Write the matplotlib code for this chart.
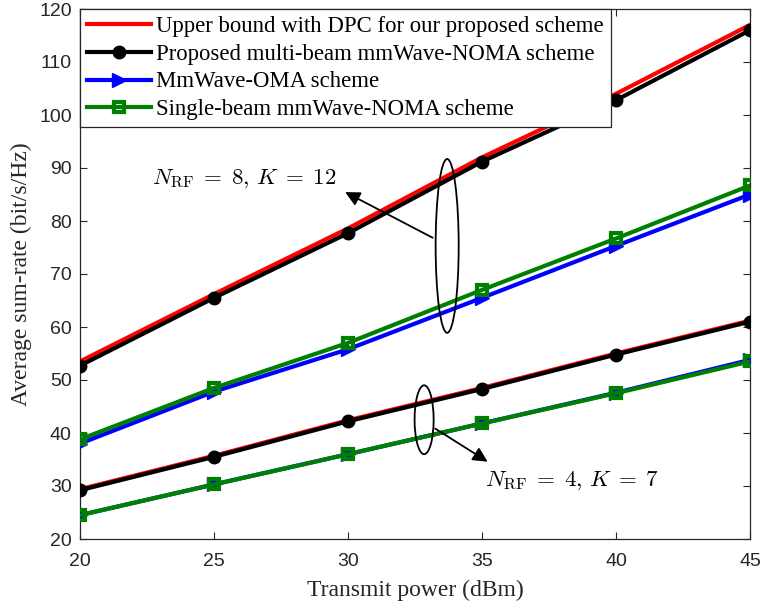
import matplotlib
matplotlib.use("Agg")
import matplotlib.pyplot as plt
from matplotlib.patches import Ellipse

power_dbm = [20, 25, 30, 35, 40, 45]

# N_RF = 8, K = 12
dpc_8 = [53.5, 66.2, 78.6, 92.0, 104.0, 117.0]
multi_8 = [52.7, 65.5, 77.7, 91.2, 102.8, 116.0]
oma_8 = [38.0, 47.8, 55.8, 65.5, 75.3, 85.0]
single_8 = [38.8, 48.5, 57.0, 67.0, 76.7, 86.7]

# N_RF = 4, K = 7
dpc_4 = [29.4, 35.7, 42.4, 48.5, 55.0, 61.2]
multi_4 = [29.2, 35.5, 42.2, 48.3, 54.8, 61.0]
oma_4 = [24.5, 30.3, 36.0, 41.8, 47.6, 53.8]
single_4 = [24.5, 30.3, 36.0, 41.8, 47.5, 53.5]

legend_labels = [
    "Upper bound with DPC for our proposed scheme",
    "Proposed multi-beam mmWave-NOMA scheme",
    "MmWave-OMA scheme",
    "Single-beam mmWave-NOMA scheme",
]

serif = "Liberation Serif"
sans = "Liberation Sans"
plt.rcParams["mathtext.fontset"] = "cm"

fig = plt.figure(figsize=(7.61, 6.10), dpi=100)
ax = fig.add_axes([80 / 761, 1 - 539 / 610, 670 / 761, 530 / 610])

lw = 3.0
styles = [
    dict(color="red", lw=lw, zorder=3),
    dict(color="black", lw=lw, marker="o", ms=9, zorder=4),
    dict(color="blue", lw=lw, marker=">", ms=10, zorder=3),
    dict(color="green", lw=lw, marker="s", ms=7, mfc="none", mew=3, zorder=4),
]

groups = [
    (dpc_8, multi_8, oma_8, single_8),
    (dpc_4, multi_4, oma_4, single_4),
]
handles = []
for gi, grp in enumerate(groups):
    for si, ys in enumerate(grp):
        h, = ax.plot(power_dbm, ys, **styles[si])
        if gi == 0:
            handles.append(h)

ax.set_xlim(20, 45)
ax.set_ylim(20, 120)
ax.set_xticks(power_dbm)
ax.set_yticks(range(20, 121, 10))
ax.tick_params(direction="in", top=True, right=True, length=5, width=0.8,
               colors="#262626", labelsize=14)
ax.tick_params(axis="x", pad=10)
ax.tick_params(axis="y", pad=6)
for lab in ax.get_xticklabels() + ax.get_yticklabels():
    lab.set_fontfamily(sans)
for sp in ax.spines.values():
    sp.set_color("#262626")
    sp.set_linewidth(0.9)

ax.set_xlabel("Transmit power (dBm)", fontfamily=serif, fontsize=17, color="#262626", labelpad=7)
ax.set_ylabel("Average sum-rate (bit/s/Hz)", fontfamily=serif, fontsize=17, color="#262626", labelpad=5)

leg = ax.legend(handles, legend_labels, loc="upper left", prop=dict(family=serif, size=16.4),
                frameon=True, fancybox=False, edgecolor="#262626", framealpha=1,
                borderaxespad=0, handlelength=2.8, handletextpad=0.25, labelspacing=0.3,
                borderpad=0.3)
leg.get_frame().set_linewidth(0.9)
leg.set_zorder(10)

arrow_kw = dict(arrowstyle="-|>", color="black", lw=1.3, mutation_scale=22)

# N_RF = 8 group marker
ax.add_patch(Ellipse((33.7, 75.3), 0.86, 32.8, fill=False, lw=1.3, color="black", zorder=6))
ax.annotate("", xy=(29.8, 85.7), xytext=(33.25, 76.6), arrowprops=arrow_kw, zorder=7)
ax.text(22.7, 88.1, r"$N_{\rm RF}\;=\;8,\,K\;=\;12$", fontsize=16.5, ha="left", va="center")

# N_RF = 4 group marker
ax.add_patch(Ellipse((32.84, 42.5), 0.71, 13.0, fill=False, lw=1.3, color="black", zorder=6))
ax.annotate("", xy=(35.3, 34.3), xytext=(33.17, 41.1), arrowprops=arrow_kw, zorder=7)
ax.text(35.1, 31.1, r"$N_{\rm RF}\;=\;4,\,K\;=\;7$", fontsize=16.5, ha="left", va="center")

fig.savefig("out.png", dpi=100, facecolor="white")
